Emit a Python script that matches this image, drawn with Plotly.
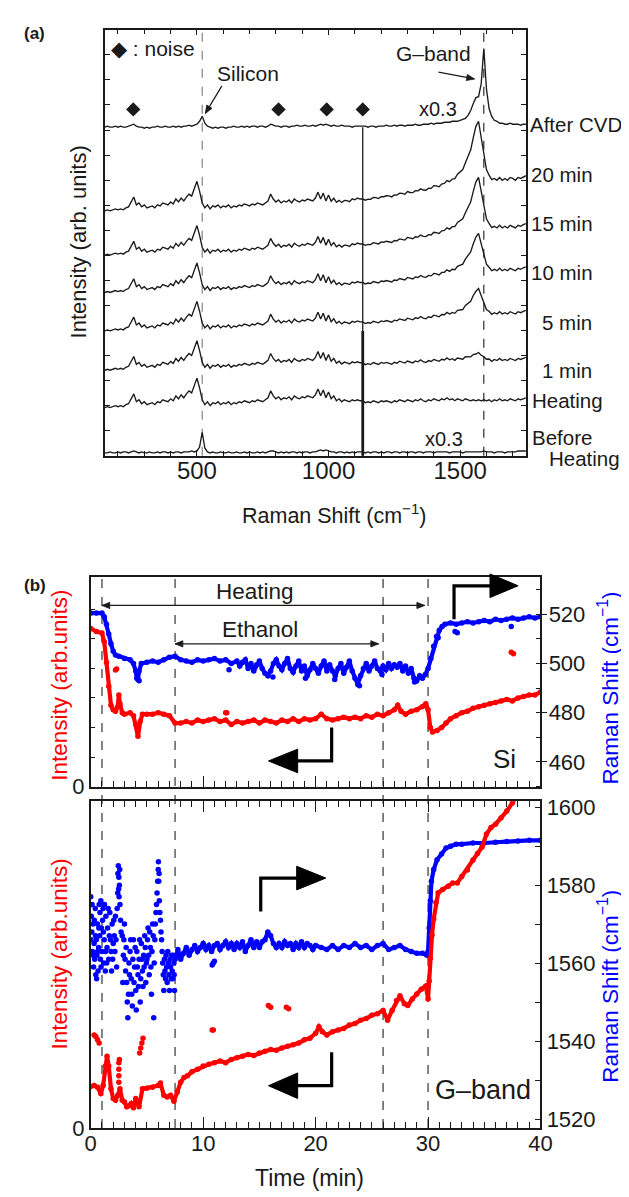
import numpy as np
import plotly.graph_objects as go

W, H = 629, 1197
FONT = "Liberation Sans, Arial, Helvetica, sans-serif"
INK = "#1a1a1a"

# ====================== (a) Raman spectra ======================
raman_shift = list(range(150, 1751, 10))  # cm^-1 sampling grid

# shared background of the in-situ spectra (arb. units above each baseline)
common_background = [
    0, 1, 0, 1, 2, 1, 2, 1, 3, 4,
    9, 14, 6, 8, 4, 6, 3, 4, 5, 3,
    6, 5, 8, 7, 6, 9, 7, 12, 9, 13,
    10, 14, 17, 15, 22, 30, 20, 8, 3, 6,
    2, 5, 4, 6, 3, 5, 4, 6, 3, 5,
    4, 6, 5, 7, 6, 5, 7, 6, 8, 7,
    6, 8, 10, 17, 12, 9, 11, 8, 10, 9,
    11, 8, 12, 10, 9, 11, 10, 12, 11, 10,
    13, 19, 12, 18, 10, 16, 9, 12, 7, 9,
    6, 8, 7, 6, 8, 7, 8, 7, 7, 5,
    6, 5, 7, 6, 5, 7, 6, 7, 6, 5,
    7, 6, 8, 7, 6, 8, 7, 6, 8, 7,
    9, 7, 6, 8, 7, 9, 8, 7, 9, 8,
    10, 8, 9, 7, 9, 8, 7, 9, 8, 7,
    8, 7, 8, 7, 8, 7, 8, 6, 8, 7,
    9, 7, 8, 7, 9, 8, 7, 9, 8, 9,
    10,
]

after_cvd = [
    0, 1, 0, 0, 1, 0, 1, 0, 0, 1,
    2, 3, 1, 0, 0, -1, 0, -1, 0, 0,
    1, 0, 0, 1, 0, 0, 1, 0, 1, 0,
    1, 1, 2, 1, 2, 3, 6, 11, 4, 1,
    0, -1, 0, -1, 0, 0, -1, 0, 0, 1,
    0, 0, 1, 0, 1, 0, 1, 1, 0, 1,
    1, 0, 1, 3, 2, 1, 1, 0, 1, 1,
    0, 1, 1, 2, 1, 1, 2, 1, 1, 2,
    1, 2, 3, 2, 3, 2, 1, 2, 1, 1,
    2, 1, 1, 1, 0, 1, 1, 1, 1, 1,
    0, 1, 1, 0, 1, 1, 1, 2, 1, 1,
    2, 1, 2, 2, 1, 2, 2, 2, 3, 2,
    2, 3, 3, 3, 4, 3, 4, 4, 4, 5,
    5, 5, 6, 6, 6, 7, 8, 9, 12, 17,
    24, 30, 31, 44, 80, 39, 19, 11, 7, 6,
    4, 4, 3, 3, 4, 3, 3, 3, 2, 3,
    3,
]

before_heating = [
    0, 0, 1, 0, 0, 1, 0, 1, 1, 0,
    1, 2, 1, 0, 1, 0, 0, 1, 0, 0,
    1, 0, 1, 1, 0, 1, 0, 1, 1, 0,
    1, 1, 1, 2, 1, 2, 6, 21, 5, 1,
    0, 1, 0, 0, 1, 0, 0, 1, 0, 0,
    1, 0, 0, 1, 0, 1, 0, 0, 1, 0,
    1, 0, 1, 2, 2, 1, 0, 1, 0, 1,
    0, 1, 1, 0, 1, 0, 1, 1, 0, 1,
    1, 2, 3, 2, 3, 2, 1, 1, 0, 1,
    1, 0, 1, 0, 1, 0, 1, 1, 1, 0,
    1, 0, 1, 1, 0, 1, 0, 1, 1, 0,
    1, 1, 0, 1, 1, 0, 1, 1, 0, 1,
    1, 0, 1, 1, 1, 0, 1, 1, 1, 1,
    1, 0, 1, 1, 1, 1, 0, 1, 1, 1,
    1, 1, 1, 1, 2, 1, 1, 1, 0, 1,
    1, 1, 0, 1, 1, 1, 1, 2, 2, 2,
    2,
]

# normalised G-band contribution (1000 - 1750 cm^-1)
gband_shift = list(range(1000, 1751, 10))
gband_profile = [
    0.00, 0.01, 0.01, 0.02, 0.02, 0.03, 0.03, 0.04, 0.04, 0.05,
    0.05, 0.06, 0.06, 0.06, 0.07, 0.07, 0.08, 0.08, 0.09, 0.09,
    0.09, 0.10, 0.10, 0.11, 0.11, 0.11, 0.12, 0.12, 0.13, 0.13,
    0.14, 0.14, 0.15, 0.15, 0.16, 0.16, 0.17, 0.18, 0.18, 0.19,
    0.20, 0.21, 0.21, 0.22, 0.24, 0.25, 0.26, 0.28, 0.31, 0.34,
    0.38, 0.42, 0.48, 0.56, 0.66, 0.80, 0.95, 1.00, 0.82, 0.58,
    0.42, 0.34, 0.31, 0.30, 0.29, 0.30, 0.29, 0.30, 0.29, 0.30,
    0.30, 0.29, 0.30, 0.30, 0.31, 0.31,
]

spectrum_labels = ["After CVD", "20 min", "15 min", "10 min", "5 min", "1 min", "Heating", "Before Heating"]
spectrum_offsets = [334, 249, 204, 166, 127, 87, 49, 3]
gband_amplitude = [None, 83, 71, 52, 35, 10, 0, None]
noise_shift = [258, 810, 993, 1130]
noise_marker_level = 352
spike_shift = 1130
silicon_shift = 520
gband_peak_shift = 1590

# ====================== (b) time evolution ======================
si_shift_main = (
    [(0, 520.5), (0.5, 520.5), (1.0, 520.5), (1.2, 519), (1.4, 516), (1.6, 512), (1.8, 508),
     (2.0, 505), (2.2, 503.5), (2.5, 503), (3.0, 502), (3.5, 501.5), (3.8, 500), (4.0, 497),
     (4.1, 494), (4.2, 493.5), (4.3, 497), (4.5, 500), (5.0, 500.5), (5.5, 501), (6.0, 500.5),
     (6.5, 501.5), (7.0, 502.5), (7.5, 503), (8.0, 501.5), (8.5, 501), (9.0, 500.5), (9.5, 501.5),
     (10.0, 501), (10.5, 501.5), (11.0, 502), (11.5, 501), (12.0, 501.5), (12.5, 500), (13.0, 501)]
)
si_shift_noisy_t = [round(13.25 + 0.25 * i, 2) for i in range(68)]
si_shift_noisy = [
    499, 500.5, 501.5, 498, 500, 497, 499.5, 501, 498, 496, 495, 497,
    500, 501.5, 499, 497.5, 500, 502, 498, 496.5, 499, 501, 497, 499,
    495, 497.5, 500, 498, 496, 499, 501, 497, 499.5, 497, 495, 498,
    500, 496, 498.5, 501, 497, 494, 491.5, 495, 498, 500, 497, 499,
    501, 498, 497, 499, 497.5, 500, 498, 499.5, 498.5, 500, 497, 499,
    496, 498, 494, 493, 495, 494, 495.5, 498,
]
si_shift_recovery = [
    (30.25, 502), (30.5, 507), (30.75, 511), (31.0, 513.5), (31.25, 515), (31.5, 516),
    (32.0, 516.5), (32.5, 516), (33.0, 516.5), (33.5, 517), (34.0, 516.5), (34.5, 517),
    (35.0, 517.5), (35.5, 517), (36.0, 518), (36.5, 517.5), (37.0, 518), (37.5, 518.5),
    (38.0, 518), (38.5, 518.5), (39.0, 519), (39.5, 518.5), (40.0, 519),
]
si_shift_outliers = [(4.3, 493), (12.3, 497.5), (16.2, 494.5), (23.9, 491), (30.9, 510.5),
                     (32.4, 513), (32.6, 512.5), (37.4, 515), (19.1, 494), (21.7, 493.5),
                     (25.9, 495.5), (28.8, 492.5)]

si_int_main = [
    (0, 5.35), (0.5, 5.25), (1.0, 5.2), (1.2, 4.9), (1.4, 4.2), (1.6, 3.4), (1.8, 2.75),
    (2.0, 2.6), (2.2, 2.55), (2.4, 2.7), (2.5, 3.1), (2.6, 2.8), (2.8, 2.5), (3.0, 2.45),
    (3.5, 2.5), (3.8, 2.4), (4.0, 2.1), (4.2, 1.7), (4.4, 2.2), (4.6, 2.45), (5.0, 2.45),
    (5.5, 2.45), (6.0, 2.5), (6.5, 2.45), (7.0, 2.4), (7.5, 2.15),
    (8.0, 2.15), (8.5, 2.2), (9.0, 2.15), (9.5, 2.25), (10.0, 2.2), (10.5, 2.25), (11.0, 2.3),
    (11.5, 2.2), (12.0, 2.25), (12.5, 2.1), (13.0, 2.2), (13.5, 2.15), (14.0, 2.2), (14.5, 2.25),
    (15.0, 2.15), (15.5, 2.25), (16.0, 2.2), (16.5, 2.15), (17.0, 2.25), (17.5, 2.2), (18.0, 2.3),
    (18.5, 2.2), (19.0, 2.3), (19.5, 2.25), (20.0, 2.3), (20.5, 2.45), (21.0, 2.3), (21.5, 2.25),
    (22.0, 2.3), (22.5, 2.35), (23.0, 2.3), (23.5, 2.35), (24.0, 2.3), (24.5, 2.4), (25.0, 2.35),
    (25.5, 2.45), (26.0, 2.4), (26.5, 2.5), (27.0, 2.6), (27.3, 2.75), (27.6, 2.55), (28.0, 2.45),
    (28.5, 2.55), (29.0, 2.6), (29.5, 2.7), (29.8, 2.8), (30.0, 2.6), (30.2, 2.0), (30.4, 1.85),
    (30.8, 1.9), (31.2, 2.0), (31.6, 2.15), (32.0, 2.3), (32.5, 2.4), (33.0, 2.5), (33.5, 2.55),
    (34.0, 2.65), (34.5, 2.7), (35.0, 2.75), (35.5, 2.8), (36.0, 2.85), (36.5, 2.9), (37.0, 2.95),
    (37.5, 2.9), (38.0, 3.0), (38.5, 3.05), (39.0, 3.1), (39.5, 3.1), (40.0, 3.2),
]
si_int_outliers = [(2.2, 3.95), (2.3, 3.98), (12.0, 2.5), (12.1, 2.5), (37.4, 4.55), (37.6, 4.5)]

g_int_main = [
    (0, 1.27), (0.3, 1.3), (0.6, 1.25), (0.9, 1.05), (1.1, 1.3), (1.3, 1.9), (1.45, 2.2),
    (1.6, 1.9), (1.8, 1.2), (2.0, 0.9), (2.2, 0.85), (2.4, 1.0), (2.6, 1.2), (2.8, 0.85),
    (3.0, 0.8), (3.2, 0.65), (3.4, 0.68), (3.6, 0.75), (3.8, 0.62), (4.0, 0.9), (4.2, 0.75),
    (4.3, 0.65), (4.6, 1.2), (5.0, 1.22), (5.5, 1.25), (6.0, 1.3), (6.2, 1.38), (6.5, 1.0),
    (6.8, 0.95), (7.1, 1.0), (7.4, 0.82), (7.7, 1.1), (8.0, 1.4), (8.3, 1.55), (8.6, 1.6),
    (9.0, 1.72), (9.5, 1.8), (10.0, 1.9), (10.5, 1.95), (11.0, 2.0), (11.5, 2.05), (12.0, 2.0),
    (12.5, 2.1), (13.0, 2.15), (13.5, 2.2), (14.0, 2.25), (14.5, 2.22), (15.0, 2.3), (15.5, 2.35),
    (16.0, 2.4), (16.5, 2.38), (17.0, 2.45), (17.5, 2.5), (18.0, 2.55), (18.5, 2.6), (19.0, 2.7),
    (19.5, 2.75), (20.0, 2.9), (20.3, 3.1), (20.6, 2.95), (21.0, 2.85), (21.5, 2.95), (22.0, 3.0),
    (22.5, 3.05), (23.0, 3.15), (23.5, 3.2), (24.0, 3.3), (24.5, 3.35), (25.0, 3.45), (25.5, 3.5),
    (26.0, 3.6), (26.4, 3.3), (26.8, 3.6), (27.2, 3.9), (27.5, 4.05), (27.9, 3.8), (28.2, 3.75),
    (28.6, 3.95), (29.0, 4.1), (29.4, 4.25), (29.8, 4.35), (30.0, 3.95), (30.1, 4.5), (30.2, 5.2),
    (30.35, 5.9), (30.5, 6.4), (30.7, 6.9), (30.9, 7.2), (31.3, 7.3), (31.8, 7.4), (32.2, 7.5),
    (32.6, 7.5), (33.0, 7.7), (33.5, 7.9), (34.0, 8.2), (34.4, 8.4), (34.8, 8.6), (35.2, 9.0),
    (35.6, 9.2), (36.0, 9.3), (36.5, 9.5), (37.0, 9.7), (37.5, 9.95), (38.0, 10.2),
]
g_int_outliers = [
    (0.3, 2.85), (0.45, 2.8), (0.6, 2.7), (0.75, 2.6), (2.5, 1.4), (2.5, 1.6), (2.5, 1.8),
    (2.5, 2.0), (2.55, 2.1), (4.35, 2.3), (4.45, 2.45), (4.55, 2.6), (4.65, 2.75),
    (10.8, 3.0), (10.9, 3.0), (15.8, 3.75), (16.0, 3.7), (17.4, 3.7), (17.6, 3.65),
]

g_shift_scatter = [
    (0.0, 1577), (0.05, 1572), (0.1, 1568), (0.15, 1563), (0.2, 1570), (0.25, 1559), (0.3, 1565),
    (0.35, 1561), (0.4, 1574), (0.45, 1557), (0.5, 1566), (0.55, 1562), (0.6, 1570), (0.65, 1558),
    (0.7, 1564), (0.75, 1575), (0.8, 1567), (0.85, 1561), (0.9, 1576), (0.95, 1569), (1.0, 1563),
    (1.05, 1571), (1.1, 1574), (1.15, 1560), (1.2, 1566), (1.3, 1558), (1.35, 1572), (1.45, 1564),
    (1.5, 1569), (1.6, 1561), (1.7, 1573), (1.75, 1566), (1.85, 1558), (1.9, 1570), (2.0, 1565),
    (2.1, 1567), (2.2, 1572), (2.3, 1559), (2.4, 1578), (2.45, 1585), (2.5, 1582), (2.55, 1580),
    (2.6, 1575), (2.65, 1571), (2.8, 1567), (2.9, 1562), (3.0, 1570), (3.1, 1558), (3.2, 1555),
    (3.3, 1546), (3.35, 1552), (3.4, 1560), (3.5, 1563), (3.6, 1556), (3.7, 1549), (3.8, 1566),
    (3.9, 1559), (4.0, 1553), (4.1, 1563), (4.2, 1557), (4.3, 1561), (4.4, 1550), (4.5, 1565),
    (4.6, 1558), (4.7, 1562), (4.8, 1567), (4.9, 1555), (5.0, 1561), (5.1, 1569), (5.2, 1557),
    (5.3, 1564), (5.4, 1552), (5.5, 1570), (5.6, 1546), (5.7, 1566), (5.8, 1573), (5.9, 1578),
    (6.0, 1584), (6.05, 1581), (6.1, 1576), (6.2, 1571), (6.3, 1566), (6.4, 1560), (6.5, 1553),
    (6.6, 1558), (6.7, 1562), (6.8, 1555), (6.9, 1560), (7.0, 1553), (7.1, 1559), (7.2, 1562),
    (7.3, 1556), (7.4, 1560), (7.45, 1553),
    (0.02, 1566), (0.12, 1575), (0.22, 1562), (0.32, 1571), (0.42, 1567), (0.52, 1556),
    (0.62, 1563), (0.72, 1569), (0.82, 1573), (0.92, 1559), (1.12, 1568), (1.22, 1575),
    (1.32, 1563), (1.42, 1560), (1.55, 1574), (1.65, 1567), (1.8, 1563), (1.95, 1561),
    (2.05, 1571), (2.15, 1563), (2.25, 1566), (2.35, 1574), (2.42, 1583), (2.48, 1579),
    (2.52, 1577), (2.58, 1584), (2.7, 1568), (2.85, 1555), (2.95, 1566), (3.05, 1561),
    (3.15, 1564), (3.25, 1550), (3.45, 1557), (3.55, 1566), (3.65, 1552), (3.75, 1561),
    (3.85, 1555), (3.95, 1564), (4.05, 1548), (4.15, 1559), (4.25, 1554), (4.35, 1566),
    (4.45, 1556), (4.55, 1561), (4.65, 1554), (4.75, 1559), (4.85, 1564), (4.95, 1560),
    (5.05, 1566), (5.15, 1562), (5.25, 1568), (5.35, 1559), (5.45, 1563), (5.55, 1567),
    (5.65, 1560), (5.75, 1570), (5.85, 1575), (5.95, 1581), (6.02, 1586), (6.08, 1583),
    (6.15, 1573), (6.25, 1568), (6.35, 1563), (6.45, 1557), (6.55, 1561), (6.65, 1556),
    (6.75, 1559), (6.85, 1563), (6.95, 1557), (7.05, 1561), (7.15, 1556), (7.25, 1558),
    (7.35, 1562), (7.42, 1557),
]
g_shift_main = [
    (7.5, 1561), (7.75, 1563.5), (8.0, 1561), (8.25, 1562.5), (8.5, 1564), (8.75, 1562),
    (9.0, 1563.5), (9.25, 1564.5), (9.5, 1563), (9.75, 1564), (10.0, 1565), (10.25, 1563.5),
    (10.5, 1564.5), (10.75, 1563), (11.0, 1564.5), (11.25, 1565), (11.5, 1563.5), (11.75, 1564.5),
    (12.0, 1565.5), (12.25, 1564), (12.5, 1565), (12.75, 1563.5), (13.0, 1565), (13.25, 1564),
    (13.5, 1565.5), (13.75, 1563), (14.0, 1564.5), (14.25, 1566), (14.5, 1564), (14.75, 1565.5),
    (15.0, 1564), (15.25, 1565.5), (15.5, 1566), (15.75, 1568), (16.0, 1567), (16.25, 1565),
    (16.5, 1564), (16.75, 1565), (17.0, 1564), (17.25, 1565.5), (17.5, 1564.5), (17.75, 1565),
    (18.0, 1563.5), (18.25, 1565), (18.5, 1564), (18.75, 1565.5), (19.0, 1564), (19.25, 1565),
    (19.5, 1564.5), (19.75, 1563.5), (20.0, 1564.5), (20.5, 1564), (21.0, 1563.5), (21.5, 1564.5),
    (22.0, 1563.5), (22.5, 1564.5), (23.0, 1564), (23.5, 1565), (24.0, 1564), (24.5, 1564.5),
    (25.0, 1563.5), (25.5, 1564.5), (26.0, 1565), (26.5, 1563.5), (27.0, 1564), (27.5, 1564.5),
    (28.0, 1563.5), (28.5, 1563), (29.0, 1562.5), (29.5, 1562.5), (29.9, 1562), (30.0, 1563),
    (30.1, 1569), (30.2, 1576), (30.3, 1581), (30.5, 1584), (30.8, 1586.5), (31.2, 1588),
    (31.6, 1589.5), (32.0, 1590), (32.5, 1590.5), (33.0, 1590.5), (34.0, 1590.8), (35.0, 1590.8),
    (36.0, 1591), (37.0, 1591.2), (38.0, 1591.3), (39.0, 1591.5), (40.0, 1591.5),
]
g_shift_outliers = [(10.8, 1559.5), (10.9, 1560), (11.0, 1560.5)]

event_times = [1, 7.5, 26, 30]
heating_span = (1, 29.7)
ethanol_span = (7.5, 25.6)

# ---------------- sanity ----------------
n = len(raman_shift)
assert len(common_background) == n and len(after_cvd) == n and len(before_heating) == n
assert len(gband_profile) == len(gband_shift)
assert len(si_shift_noisy) == len(si_shift_noisy_t)


def unzip(pairs):
    return [p[0] for p in pairs], [p[1] for p in pairs]


def px(xp, yp):
    return xp / W, 1 - yp / H


fig = go.Figure()

# ---------------- panel (a) ----------------
bg = np.array(common_background, float)
gfull = np.zeros(n)
gfull[n - len(gband_profile):] = gband_profile

line_style = dict(color=INK, width=1.35)
for label, off, amp in zip(spectrum_labels, spectrum_offsets, gband_amplitude):
    if label == "After CVD":
        y = off + np.array(after_cvd, float)
    elif label == "Before Heating":
        y = off + np.array(before_heating, float)
    else:
        y = off + bg + amp * gfull
    fig.add_trace(go.Scatter(x=raman_shift, y=y, mode="lines", line=line_style,
                             xaxis="x", yaxis="y", hoverinfo="skip"))

# noise spike at 1130 cm^-1 (After CVD thin, lower spectra overlap thick)
fig.add_trace(go.Scatter(x=[spike_shift, spike_shift], y=[spectrum_offsets[0], 0], mode="lines",
                         line=dict(color=INK, width=1.3), xaxis="x", yaxis="y"))
fig.add_trace(go.Scatter(x=[spike_shift, spike_shift], y=[spectrum_offsets[4], 0], mode="lines",
                         line=dict(color=INK, width=2.8), xaxis="x", yaxis="y"))
fig.add_trace(go.Scatter(x=noise_shift, y=[noise_marker_level] * len(noise_shift), mode="markers",
                         marker=dict(symbol="diamond", size=11, color=INK), xaxis="x", yaxis="y"))

# ---------------- panel (b) ----------------
mk = 5.5
lw = 4.2
RED, BLUE = "#ff0000", "#0000ff"

t, v = unzip(si_shift_main)
t2, v2 = unzip(si_shift_recovery)
si_t = t + si_shift_noisy_t + t2
si_v = v + si_shift_noisy + v2
fig.add_trace(go.Scatter(x=si_t, y=si_v, mode="lines+markers", line=dict(color=BLUE, width=lw),
                         marker=dict(color=BLUE, size=mk), xaxis="x2", yaxis="y2"))
t, v = unzip(si_shift_outliers)
fig.add_trace(go.Scatter(x=t, y=v, mode="markers", marker=dict(color=BLUE, size=mk),
                         xaxis="x2", yaxis="y2"))
t, v = unzip(si_int_main)
fig.add_trace(go.Scatter(x=t, y=v, mode="lines+markers", line=dict(color=RED, width=lw),
                         marker=dict(color=RED, size=mk), xaxis="x2", yaxis="y3"))
t, v = unzip(si_int_outliers)
fig.add_trace(go.Scatter(x=t, y=v, mode="markers", marker=dict(color=RED, size=mk),
                         xaxis="x2", yaxis="y3"))

t, v = unzip(g_shift_scatter)
fig.add_trace(go.Scatter(x=t, y=v, mode="markers", marker=dict(color=BLUE, size=mk),
                         xaxis="x3", yaxis="y4"))
t, v = unzip(g_shift_main)
fig.add_trace(go.Scatter(x=t, y=v, mode="lines+markers", line=dict(color=BLUE, width=lw),
                         marker=dict(color=BLUE, size=mk), xaxis="x3", yaxis="y4"))
t, v = unzip(g_shift_outliers)
fig.add_trace(go.Scatter(x=t, y=v, mode="markers", marker=dict(color=BLUE, size=mk),
                         xaxis="x3", yaxis="y4"))
t, v = unzip(g_int_main)
fig.add_trace(go.Scatter(x=t, y=v, mode="lines+markers", line=dict(color=RED, width=lw),
                         marker=dict(color=RED, size=mk), xaxis="x3", yaxis="y5"))
t, v = unzip(g_int_outliers)
fig.add_trace(go.Scatter(x=t, y=v, mode="markers", marker=dict(color=RED, size=mk),
                         xaxis="x3", yaxis="y5"))

# ---------------- axes ----------------
def ax_common(size):
    return dict(showline=True, linecolor=INK, linewidth=1.5, showgrid=False, zeroline=False,
                tickcolor=INK, tickwidth=1.2, tickfont=dict(family=FONT, size=size, color=INK))


B_LEFT, B_RIGHT = 79, 542
dom_a_x = [93.5 / W, 527 / W]
dom_a_y = [1 - 449 / H, 1 - 16 / H]
dom_b_x = [B_LEFT / W, B_RIGHT / W]
dom_b1_y = [1 - 785 / H, 1 - 572 / H]
dom_b2_y = [1 - 1132 / H, 1 - 800 / H]
T_RANGE = [0, 40]

fig.update_layout(
    width=W, height=H, margin=dict(l=0, r=0, t=0, b=0),
    paper_bgcolor="white", plot_bgcolor="white", showlegend=False,
    font=dict(family=FONT, color=INK),
    xaxis=dict(**ax_common(24), domain=dom_a_x, anchor="y", range=[150, 1750], tick0=0, dtick=500,
               ticks="inside", ticklen=6, mirror="ticks", ticklabelstandoff=-7,
               minor=dict(ticks="inside", dtick=100, tick0=0, ticklen=5, tickcolor=INK)),
    yaxis=dict(**ax_common(21), domain=dom_a_y, anchor="x", range=[0, 433], tick0=0, dtick=25.47,
               ticks="inside", ticklen=5, mirror="ticks", showticklabels=False),
    xaxis2=dict(**ax_common(22), domain=dom_b_x, anchor="y2", range=T_RANGE, tick0=0, dtick=10,
                ticks="inside", ticklen=11, mirror=True, showticklabels=False,
                minor=dict(ticks="inside", dtick=1, ticklen=6, tickcolor=INK)),
    yaxis2=dict(**ax_common(22), domain=dom_b1_y, anchor="x2", side="right", range=[450, 535.2],
                tick0=0, dtick=20, ticks="outside", ticklen=5, ticklabelstandoff=-3,
                minor=dict(ticks="inside", dtick=10, ticklen=5, tickcolor=INK)),
    yaxis3=dict(**ax_common(22), anchor="x2", overlaying="y2", side="left", range=[0, 7.1],
                tickmode="array", tickvals=[0], ticktext=["0"], ticks="inside", ticklen=5,
                minor=dict(ticks="inside", tickmode="array", tickvals=[1, 2, 3, 4, 5, 6],
                           ticklen=5, tickcolor=INK)),
    xaxis3=dict(**ax_common(22), domain=dom_b_x, anchor="y4", range=T_RANGE, tick0=0, dtick=10,
                ticks="inside", ticklen=11, mirror="ticks", ticklabelstandoff=-5,
                minor=dict(ticks="inside", dtick=1, ticklen=6, tickcolor=INK)),
    yaxis4=dict(**ax_common(22), domain=dom_b2_y, anchor="x3", side="right", range=[1517.7, 1601.5],
                tick0=0, dtick=20, ticks="inside", ticklen=6,
                minor=dict(ticks="inside", dtick=10, ticklen=6, tickcolor=INK)),
    yaxis5=dict(**ax_common(22), anchor="x3", overlaying="y4", side="left", range=[0, 10],
                tickvals=[0], ticktext=["0"], ticks=""),
)

# ---------------- shapes ----------------
shapes = []
for xv, col in [(silicon_shift, "#777777"), (gband_peak_shift, INK)]:
    shapes.append(dict(type="line", xref="x", yref="y domain", x0=xv, x1=xv, y0=0, y1=1,
                       line=dict(color=col, width=1.1, dash="dash"), layer="below"))
for tv in event_times:
    shapes.append(dict(type="line", xref="x2", yref="paper", x0=tv, x1=tv,
                       y0=1 - 1132 / H, y1=1 - 572 / H,
                       line=dict(color="#333333", width=1.2, dash="dash"), layer="below"))


def path(points, close=False):
    s = ""
    for i, (xp, yp) in enumerate(points):
        x, y = px(xp, yp)
        s += ("M" if i == 0 else "L") + f"{x:.5f},{y:.5f} "
    return s + ("Z" if close else "")


def thin_arrow(tail, tip, heads=("end",), hl=8.0, hw=3.2):
    """thin arrow between two pixel points, drawn with shapes"""
    shapes.append(dict(type="path", xref="paper", yref="paper", path=path([tail, tip]),
                       line=dict(color=INK, width=1.2)))
    ends = []
    if "end" in heads:
        ends.append((tail, tip))
    if "start" in heads:
        ends.append((tip, tail))
    for a, b in ends:
        dx, dy = b[0] - a[0], b[1] - a[1]
        L = (dx * dx + dy * dy) ** 0.5
        ux, uy = dx / L, dy / L
        bx, by = b[0] - ux * hl, b[1] - uy * hl
        p1 = (bx - uy * hw, by + ux * hw)
        p2 = (bx + uy * hw, by - ux * hw)
        shapes.append(dict(type="path", xref="paper", yref="paper", path=path([p1, b, p2], True),
                           fillcolor=INK, line=dict(color=INK, width=0.8)))


def t_to_px(tv):
    return B_LEFT + (tv - T_RANGE[0]) / (T_RANGE[1] - T_RANGE[0]) * (B_RIGHT - B_LEFT)


thin_arrow((214, 73), (197, 101))
thin_arrow((437, 59), (474, 66))
for (a0, a1), yp in [(heating_span, 601), (ethanol_span, 640)]:
    thin_arrow((t_to_px(a0), yp), (t_to_px(a1), yp), heads=("end", "start"))

bent = [
    ([(453, 615), (453, 581), (494, 581)], [(490, 569), (519, 581), (490, 593)]),
    ([(327, 725), (327, 759), (289, 759)], [(292, 747), (262, 759), (292, 771)]),
    ([(254, 912), (254, 878), (295, 878)], [(291, 866), (321, 878), (291, 890)]),
    ([(327, 1055), (327, 1089), (289, 1089)], [(292, 1076), (262, 1089), (292, 1102)]),
]
for stem, head in bent:
    shapes.append(dict(type="path", xref="paper", yref="paper", path=path(stem),
                       line=dict(color="black", width=3.2)))
    shapes.append(dict(type="path", xref="paper", yref="paper", path=path(head, True),
                       fillcolor="black", line=dict(color="black", width=1)))
fig.update_layout(shapes=shapes)

# ---------------- annotations ----------------
ann = []


def text(t, xp, yp, size=18, color=INK, xanchor="center", angle=0):
    x, y = px(xp, yp)
    ann.append(dict(text=t, x=x, y=y, xref="paper", yref="paper", xanchor=xanchor,
                    yanchor="middle", showarrow=False, textangle=angle,
                    font=dict(family=FONT, size=size, color=color)))


text("<b>(a)</b>", 8, 20, size=17, xanchor="left")
text("◆ : noise", 98, 35, size=21, xanchor="left")
text("Silicon", 241, 60, size=21)
text("G–band", 432, 40, size=21)
text("x0.3", 437, 97, size=20)
text("x0.3", 443, 432, size=20)
label_pos = [(529, 112), (530, 163), (530, 213), (530, 263), (541, 313), (541, 362), (531, 393)]
for lab, (xp, yp) in zip(spectrum_labels[:-1], label_pos):
    text(lab, xp, yp, size=20.5, xanchor="left")
text("Before", 531, 430, size=20.5, xanchor="left")
text("Heating", 549, 452, size=20.5, xanchor="left")
text("Raman Shift (cm<sup>−1</sup>)", 329, 508, size=21.5)
text("Intensity (arb. units)", 66, 232, size=22, angle=-90)

text("<b>(b)</b>", 8, 581, size=17, xanchor="left")
text("Heating", 248, 587, size=22.5)
text("Ethanol", 253, 625, size=22.5)
text("Si", 505, 757, size=26)
text("G–band", 483, 1093, size=27)
text("Intensity (arb.units)", 47, 682, size=22.5, color=RED, angle=-90)
text("Intensity (arb.units)", 47, 955, size=22.5, color=RED, angle=-90)
text("Raman Shift (cm<sup>−1</sup>)", 612, 685, size=22.5, color=BLUE, angle=-90)
text("Raman Shift (cm<sup>−1</sup>)", 612, 988, size=22.5, color=BLUE, angle=-90)
text("Time (min)", 304, 1183, size=23)

fig.update_layout(annotations=ann)
fig.write_html("out.html")
